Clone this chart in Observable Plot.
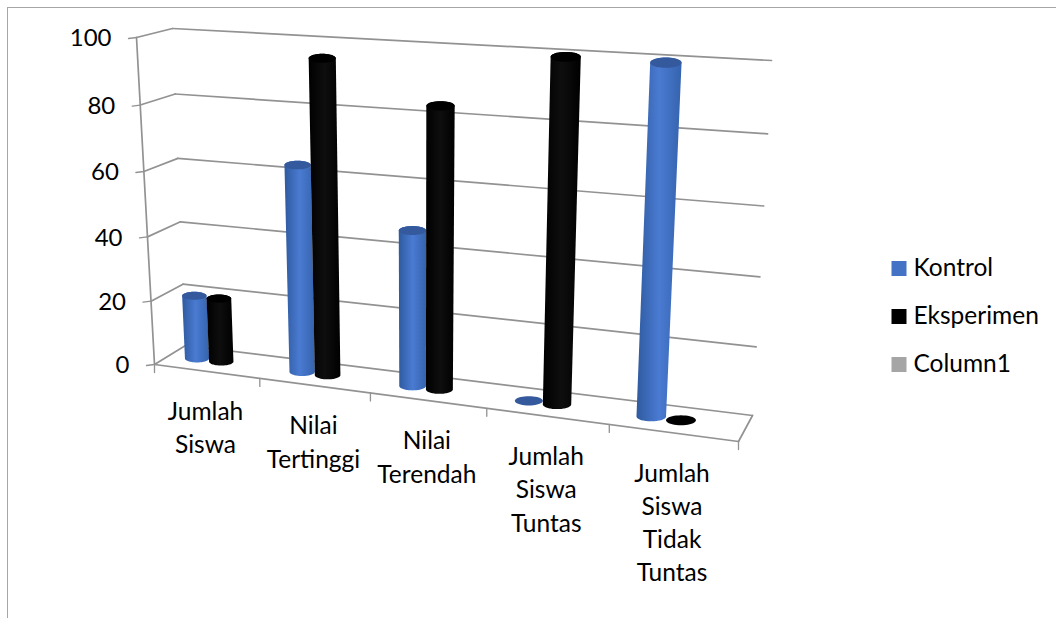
<!DOCTYPE html>
<html>
<head>
<meta charset="utf-8">
<script src="https://cdn.jsdelivr.net/npm/d3@7"></script>
<script src="https://cdn.jsdelivr.net/npm/@observablehq/plot@0.6"></script>
<style>
html,body{margin:0;padding:0;background:#fff;overflow:hidden}
#frame{position:absolute;left:7px;top:7px;right:0;bottom:0;border-left:1px solid #a6a6a6;border-top:1px solid #a6a6a6}
#chart{position:absolute;left:0;top:0}
svg{display:block}
</style>
</head>
<body>
<div id="frame"></div>
<div id="chart"></div>
<script>
const categories = ["Jumlah\nSiswa", "Nilai\nTertinggi", "Nilai\nTerendah", "Jumlah\nSiswa\nTuntas", "Jumlah\nSiswa\nTidak\nTuntas"];
const kontrol = [20, 63.5, 47, 0, 100];
const eksperimen = [20, 95.5, 84, 100, 0];
const column1 = [null, null, null, null, null];
const seriesNames = ["Kontrol", "Eksperimen", "Column1"];
const seriesColors = ["#4472c4", "#000000", "#a5a5a5"];
const yTicks = [0, 20, 40, 60, 80, 100];

// 3D box of the chart: the eight projected corners and the perspective strengths
const floor = {fl:[154,364], bl:[185,345], br:[752,415], fr:[738,441]};
const roof = {fl:[136,37], bl:[172,28], br:[771,60], fr:[760,76]};
const persp = (x, a) => x * (1 - a) / (1 - a * x);
const mix = (p, q, t) => [p[0] + (q[0] - p[0]) * t, p[1] + (q[1] - p[1]) * t];
function project(u, d, v) {
  const s = persp(u, 0.12), t = persp(v / 100, 0.04);
  const bottom = mix(mix(floor.fl, floor.fr, s), mix(floor.bl, floor.br, s), d);
  const top = mix(mix(roof.fl, roof.fr, s), mix(roof.bl, roof.br, s), d);
  return mix(bottom, top, t);
}
const n = categories.length;
const slot = (i) => (i + 0.5) / n;
const barStep = 0.047, barRadius = 0.0235;

const seg = (a, b) => [{x: a[0], y: a[1]}, {x: b[0], y: b[1]}];
const gridColor = "#929292";
const grid = [];
for (const v of yTicks) {
  grid.push(seg(project(0, 0, v), project(0, 1, v)));
  grid.push(seg(project(0, 1, v), project(1, 1, v)));
}
grid.push(seg(project(0, 0, 0), project(0, 0, 100)));
grid.push(seg(project(0, 0, 0), project(1, 0, 0)));
grid.push(seg(project(1, 0, 0), project(1, 1, 0)));
const ticks = [];
for (const v of yTicks) { const p = project(0, 0, v); ticks.push(seg(p, [p[0] - 8, p[1] + 1])); }
for (let i = 0; i <= n; i++) { const p = project(i / n, 0, 0); ticks.push(seg(p, [p[0], p[1] + 8])); }

function arc(c, rx, ry, from, to) {
  const out = [];
  for (let k = 0; k <= 40; k++) {
    const a = from + (to - from) * k / 40;
    out.push({x: c[0] + rx * Math.cos(a), y: c[1] + ry * Math.sin(a)});
  }
  return out;
}
function halfWidth(u, v) {
  return (project(u + barRadius, 0.5, v)[0] - project(u - barRadius, 0.5, v)[0]) / 2;
}
function cylinder(i, j, value) {
  if (value == null) return [];
  const u = slot(i) + (j - 1) * barStep;
  const c0 = project(u, 0.5, 0), c1 = project(u, 0.5, value);
  const r0 = halfWidth(u, 0), r1 = halfWidth(u, value);
  const capFill = j === 0 ? "#34599c" : "#000000";
  if (value === 0) {
    return [Plot.line(arc(c0, r0, r0 * 0.33, 0, 2 * Math.PI), {x: "x", y: "y", fill: capFill, stroke: "none"})];
  }
  const lower = arc(c0, r0, r0 * 0.33, Math.PI, 0);
  const upper = arc(c1, r1, r1 * 0.33, 0, -Math.PI);
  return [
    Plot.line([...lower, ...upper], {x: "x", y: "y", fill: j === 0 ? "url(#blueBody)" : "url(#blackBody)", stroke: "none"}),
    Plot.line(arc(c1, r1, r1 * 0.33, 0, 2 * Math.PI), {x: "x", y: "y", fill: capFill, stroke: "none"})
  ];
}

const series = [kontrol, eksperimen, column1];
const bars = categories.flatMap((_, i) => series.flatMap((vals, j) => cylinder(i, j, vals[i])));

const yLabels = yTicks.map(v => { const p = project(0, 0, v); return {x: p[0] - 25, y: p[1] + 1, t: String(v)}; });
const xLabels = categories.map((c, i) => { const p = project(slot(i), 0, 0); return {x: p[0] - 1, y: p[1] + 41, t: c}; });
const legend = seriesNames.map((name, i) => ({name, color: seriesColors[i], y: 268 + i * 48}));

const defs = () => {
  const d = d3.create("svg:defs");
  const grad = (id, stops) => {
    const g = d.append("linearGradient").attr("id", id).attr("x1", 0).attr("x2", 1).attr("y1", 0).attr("y2", 0);
    stops.forEach(([o, c]) => g.append("stop").attr("offset", o).attr("stop-color", c));
  };
  grad("blueBody", [[0, "#2f5a9f"], [0.5, "#4a7bd2"], [1, "#3563ad"]]);
  grad("blackBody", [[0, "#000000"], [0.5, "#0e0e0e"], [1, "#000000"]]);
  return d.node();
};

const font = "Lato, Carlito, Calibri, sans-serif";
const chart = Plot.plot({
  width: 1056,
  height: 618,
  margin: 0,
  style: {background: "transparent", fontFamily: font},
  x: {domain: [0, 1056], range: [0, 1056], axis: null},
  y: {domain: [0, 618], range: [0, 618], axis: null},
  marks: [
    defs,
    ...grid.map(g => Plot.line(g, {x: "x", y: "y", stroke: gridColor, strokeWidth: 1.7})),
    ...ticks.map(g => Plot.line(g, {x: "x", y: "y", stroke: gridColor, strokeWidth: 1.3})),
    ...bars,
    Plot.text(yLabels, {x: "x", y: "y", text: "t", textAnchor: "end", fontSize: 24, fill: "#000"}),
    Plot.text(xLabels, {x: "x", y: "y", text: "t", textAnchor: "middle", lineAnchor: "top", dy: -16, lineHeight: 1.36, fontSize: 24.5, fill: "#000"}),
    Plot.dot(legend, {x: () => 898.5, y: "y", r: 8.46, symbol: "square", fill: "color", stroke: "none"}),
    Plot.text(legend, {x: () => 913, y: "y", text: "name", textAnchor: "start", fontSize: 24.5, fill: "#000"})
  ]
});
document.getElementById("chart").appendChild(chart);
</script>
</body>
</html>
